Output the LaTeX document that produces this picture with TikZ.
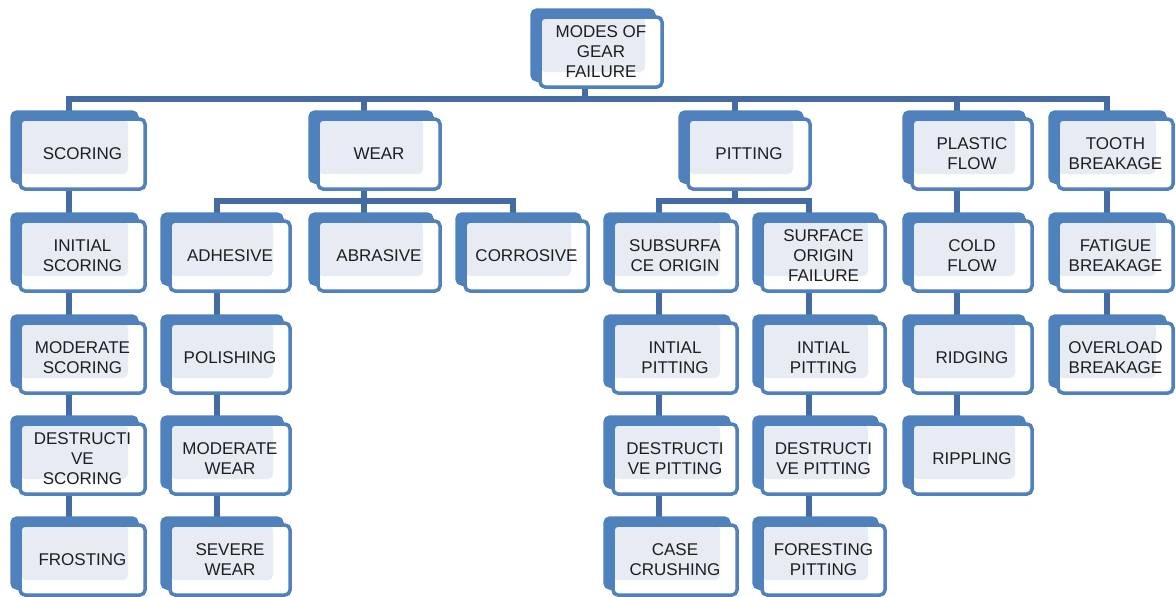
\documentclass[tikz,border=0pt]{standalone}
\usepackage{fontspec}
\setmainfont{Liberation Sans}
\usetikzlibrary{shadows,backgrounds}
\definecolor{boxblue}{RGB}{79,129,189}
\definecolor{linkblue}{RGB}{68,108,162}
\definecolor{innergray}{RGB}{231,236,244}
\definecolor{txt}{RGB}{30,30,30}
\begin{document}
\begin{tikzpicture}[x=1pt,y=-1pt,
  gbox/.style={draw=boxblue, line width=3.5pt, rounded corners=5pt, fill=white,
    minimum height=70pt, inner sep=1pt, align=center, text=txt,
    font=\fontsize{17}{20}\selectfont,
    general shadow={shadow xshift=-8pt, shadow yshift=7pt, fill=boxblue, draw=boxblue},
    path picture={\fill[innergray] (path picture bounding box.north west) rectangle ([xshift=-17pt,yshift=15pt]path picture bounding box.south east);}},
  link/.style={draw=linkblue, line width=6pt}]
\useasboundingbox (0,0) rectangle (1176,597);

% root
\node[gbox, minimum width=122pt] (root) at (601,52) {MODES OF\\GEAR\\FAILURE};

% row 1
\node[gbox, minimum width=125pt] (scoring) at (82.5,154) {SCORING};
\node[gbox, minimum width=122pt] (wear) at (379,154) {WEAR};
\node[gbox, minimum width=122pt] (pitting) at (749,154) {PITTING};
\node[gbox, minimum width=120pt] (plastic) at (972,154) {PLASTIC\\FLOW};
\node[gbox, minimum width=115pt] (tooth) at (1115.5,154) {TOOTH\\BREAKAGE};

% row 2
\node[gbox, minimum width=125pt] (iscoring) at (82.5,256) {INITIAL\\SCORING};
\node[gbox, minimum width=120pt] (adhesive) at (230,256) {ADHESIVE};
\node[gbox, minimum width=122pt] (abrasive) at (379,256) {ABRASIVE};
\node[gbox, minimum width=123pt] (corrosive) at (526.5,256) {CORROSIVE};
\node[gbox, minimum width=124pt] (subsurface) at (675,256) {SUBSURFA\\CE ORIGIN};
\node[gbox, minimum width=123pt] (surface) at (823.5,256) {SURFACE\\ORIGIN\\FAILURE};
\node[gbox, minimum width=120pt] (cold) at (972,256) {COLD\\FLOW};
\node[gbox, minimum width=115pt] (fatigue) at (1115.5,256) {FATIGUE\\BREAKAGE};

% row 3
\node[gbox, minimum width=125pt] (mscoring) at (82.5,358) {MODERATE\\SCORING};
\node[gbox, minimum width=120pt] (polishing) at (230,358) {POLISHING};
\node[gbox, minimum width=124pt] (ipitA) at (675,358) {INTIAL\\PITTING};
\node[gbox, minimum width=123pt] (ipitB) at (823.5,358) {INTIAL\\PITTING};
\node[gbox, minimum width=120pt] (ridging) at (972,358) {RIDGING};
\node[gbox, minimum width=115pt] (overload) at (1115.5,358) {OVERLOAD\\BREAKAGE};

% row 4
\node[gbox, minimum width=125pt] (dscoring) at (82.5,459) {DESTRUCTI\\VE\\SCORING};
\node[gbox, minimum width=120pt] (mwear) at (230,459) {MODERATE\\WEAR};
\node[gbox, minimum width=124pt] (dpitA) at (675,459) {DESTRUCTI\\VE PITTING};
\node[gbox, minimum width=123pt] (dpitB) at (823.5,459) {DESTRUCTI\\VE PITTING};
\node[gbox, minimum width=120pt] (rippling) at (972,459) {RIPPLING};

% row 5
\node[gbox, minimum width=125pt] (frosting) at (82.5,560) {FROSTING};
\node[gbox, minimum width=120pt] (swear) at (230,560) {SEVERE\\WEAR};
\node[gbox, minimum width=124pt] (casec) at (675,560) {CASE\\CRUSHING};
\node[gbox, minimum width=123pt] (foresting) at (823.5,560) {FORESTING\\PITTING};

\begin{scope}[on background layer]
  \fill[white] (0,0) rectangle (1176,597);
  % root to level 1
  \foreach \c/\s in {scoring/-14, wear/-15, pitting/-14, plastic/-15, tooth/-9}
    \draw[link] ([xshift=-16pt]root.south) -- ++(0,10) -| ([xshift=\s pt]\c.north);
  % wear branch
  \foreach \c/\s in {adhesive/-13, abrasive/-15, corrosive/-14}
    \draw[link] ([xshift=-15pt]wear.south) -- ++(0,10) -| ([xshift=\s pt]\c.north);
  % pitting branch
  \foreach \c/\s in {subsurface/-16, surface/-15}
    \draw[link] ([xshift=-14pt]pitting.south) -- ++(0,10) -| ([xshift=\s pt]\c.north);
  % vertical chains
  \foreach \a/\b in {scoring/iscoring, iscoring/mscoring, mscoring/dscoring, dscoring/frosting}
    \draw[link] ([xshift=-14pt]\a.south) -- ([xshift=-14pt]\b.north);
  \foreach \a/\b in {adhesive/polishing, polishing/mwear, mwear/swear}
    \draw[link] ([xshift=-13pt]\a.south) -- ([xshift=-13pt]\b.north);
  \foreach \a/\b in {subsurface/ipitA, ipitA/dpitA, dpitA/casec}
    \draw[link] ([xshift=-16pt]\a.south) -- ([xshift=-16pt]\b.north);
  \foreach \a/\b in {surface/ipitB, ipitB/dpitB, dpitB/foresting}
    \draw[link] ([xshift=-15pt]\a.south) -- ([xshift=-15pt]\b.north);
  \foreach \a/\b in {plastic/cold, cold/ridging, ridging/rippling}
    \draw[link] ([xshift=-15pt]\a.south) -- ([xshift=-15pt]\b.north);
  \foreach \a/\b in {tooth/fatigue, fatigue/overload}
    \draw[link] ([xshift=-9pt]\a.south) -- ([xshift=-9pt]\b.north);
\end{scope}
\end{tikzpicture}
\end{document}
